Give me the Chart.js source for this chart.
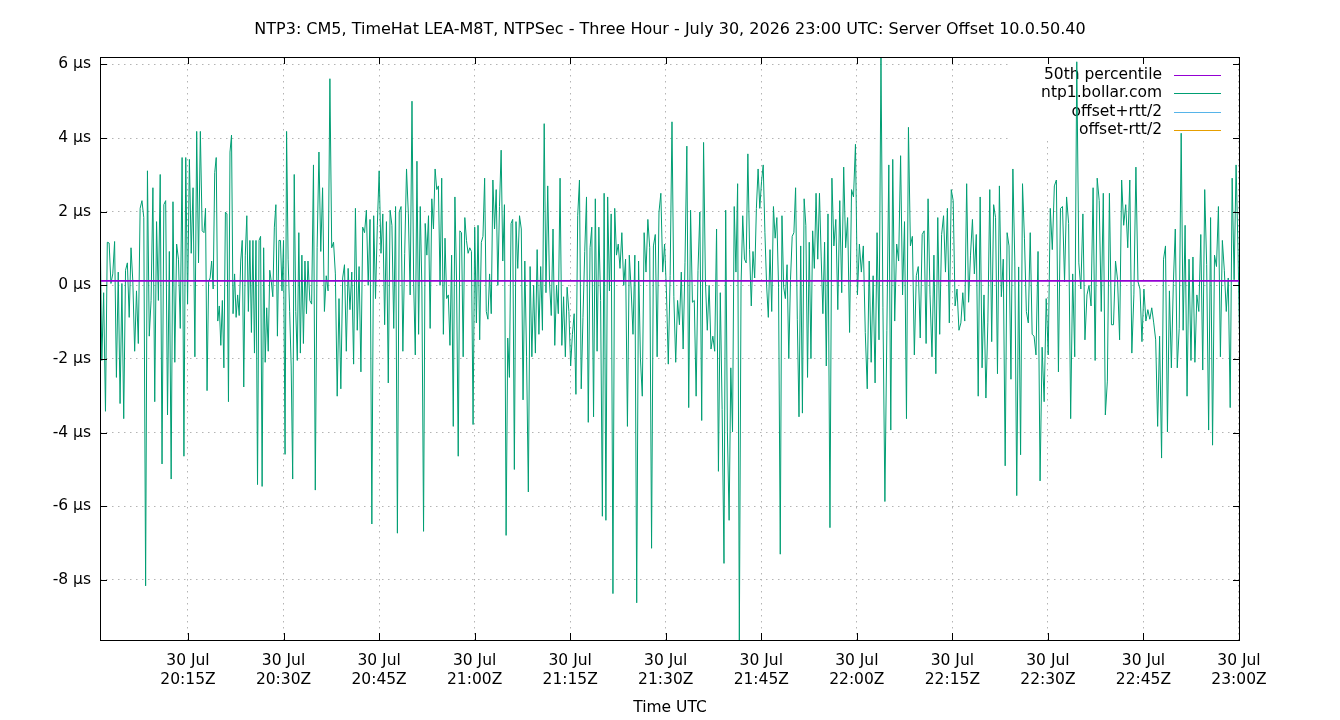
<!DOCTYPE html>
<html><head><meta charset="utf-8">
<script src="https://cdn.jsdelivr.net/npm/chart.js@4/dist/chart.umd.min.js"></script>
<style>html,body{margin:0;padding:0;background:#fff;}#wrap{width:1340px;height:720px;}</style>
</head><body><div id="wrap"><canvas id="c" width="1340" height="720"></canvas></div>
<script>
const chartTitle = "NTP3: CM5, TimeHat LEA-M8T, NTPSec - Three Hour - July 30, 2026 23:00 UTC: Server Offset 10.0.50.40";
const xAxisTitle = "Time UTC";
const seriesNames = ["50th percentile", "ntp1.bollar.com", "offset+rtt/2", "offset-rtt/2"];
const seriesColors = ["#9400d3", "#009e73", "#56b4e9", "#e69f00"];
const median50 = 0.12;                       // µs
const timeRangeMin = [1.185, 180.157];       // minutes after 20:00Z
const yRange = [-9.63, 6.2];                 // µs
// minutes after 20:00Z bounding each block of read samples (16 s polling)
const segmentBoundsMin = [1.185, 17.512, 33.839, 50.166, 66.494, 82.821, 99.148, 115.475, 131.802, 148.130, 164.457, 180.157];

const seg0 = [1.84, -2.04, -0.20, -3.42, 1.17, 1.15, 0.05, 0.31, 1.19, -2.5, 0.36, -3.21, 0.05, -3.62, 0.41, 0.61, -0.87, 1.02, 0.10, -1.79, -0.15, -1.58, 2.09, 2.30, 1.84, -8.16, 3.11, -1.38, -0.41, 2.65, -3.16, 1.73, -0.41, 3.01, -4.85, 2.19, 2.30, -3.52, 0.92, -5.26, 2.27, -2.09, 1.12, 0.71, -1.17, 3.47, -4.64, 3.47, -0.51, 3.42, 0.87, 2.65, -1.94, 4.18, 0.61, 4.18, 1.48];
const seg1 = [1.43, 2.09, -2.86, 0.10, 0.20, 0.66, -0.10, 3.06, 3.47, -0.97, -0.56, -1.63, -0.41, -2.24, 1.99, 1.94, -3.16, 3.62, 4.08, -0.77, 0.31, -0.87, -0.26, -0.82, 0.66, 1.22, -2.76, 0.82, 1.89, -0.71, 1.22, -1.28, 1.22, -1.84, 1.22, -5.41, 1.22, 1.33, -5.46, 1.02, -2.09, -0.61, -1.79, 0.41, 0.10, -0.31, 1.58, 2.19, -1.38, 1.22, 1.22, -0.15, 1.22, -4.59, 4.18, 0.71, -0.71, -2.19, -5.26, 3.01, -0.71, -2.04, 1.43, -1.84, 0.82, -1.58, 0.66, -0.77];
const seg2 = [0.66, -0.41, -0.51, 3.27, -5.56, 1.02, 3.62, 0.92, 2.65, -0.71, 0.26, -0.15, 5.61, 1.02, 1.17, 0.31, -3.01, -0.36, -2.81, 0.20, 0.56, -1.79, 0.46, -0.66, 0.36, -2.14, 2.09, -1.22, 0.51, -2.35, 1.58, 1.43, 2.04, 0.0, 1.79, -6.48, 1.89, -0.36, 1.63, 3.11, 0.87, 1.94, -1.07, 1.73, -2.65, 2.04, 1.63, -1.17, 2.14, -6.73, 1.99, 2.14, -1.79, 0.87, 3.16, 1.94, -0.26];
const seg3 = [5.0, 0.10, -1.89, 3.37, -1.33, 2.14, -0.10, -6.68, 1.68, 0.82, 1.89, -1.17, 2.35, 1.53, 3.16, 2.60, 2.70, 0.0, 2.91, -1.33, 1.28, -0.36, -0.26, -1.63, 0.82, -3.83, 2.40, 0.10, -4.64, 1.48, 1.43, -1.94, 1.84, 1.22, 0.87, 1.02, 0.92, -3.78, 1.58, -1.02, 1.63, -1.48, 1.17, 1.33, 2.91, -0.71, -0.92, 0.31, -0.77, 2.86, 1.53, 2.60, 0.0, 2.14, 3.67, 0.66, 2.19, -6.79, -1.43, -2.5, 1.68, 1.79, -5.0];
const seg4 = [1.73, 0.46, 1.89, 1.53, -3.11, 0.66, -1.94, -5.61, 0.51, -1.94, 0.0, -1.84, 0.97, -1.33, 0.51, -1.22, 4.39, -0.20, 2.70, 0.10, -0.82, 1.53, -1.63, 0.0, -0.77, 2.91, -1.63, -0.31, -1.94, -0.05, -0.71, -2.19, -1.33, -0.77, -2.96, 1.89, 2.86, -2.81, -0.87, 0.92, 2.40, -3.72, 1.02, 1.58, -3.57, 2.35, -1.79, 1.58, -0.41, -6.27, 2.50, -6.38, 2.40, -0.15, 1.94, -8.37, 2.09, 0.82, 1.12];
const seg5 = [0.46, 1.43, 0.0, 0.71, -3.83, 0.82, -0.10, -1.33, 0.82, -8.62, 0.66, -1.99, -3.01, 1.43, 0.36, 1.79, 1.02, -7.14, 1.07, 1.38, -1.94, 1.99, 2.50, 0.36, 1.12, -0.15, -2.14, 0.26, 4.44, -0.31, -2.09, -0.41, -1.07, 0.36, -1.73, 0.61, 3.78, -3.32, 2.04, -0.46, -0.41, -3.01, 0.41, 1.99, -3.67, 3.88, 0.10, -1.22, 0.0, -1.73, -1.38, -1.79, 1.53, -5.05, -0.20, -3.37];
const seg6 = [-7.55, 2.04, -3.98, -6.38, -2.24, -3.98, 2.14, 0.36, 2.76, -9.63, 0.0, 1.89, 0.71, 0.61, 3.57, 0.97, -0.56, 0.92, 0.20, 2.09, 3.16, 2.09, 2.81, 3.27, 1.43, 0.0, -0.87, 0.97, -0.71, 2.14, 1.28, 1.84, -0.05, -7.30, 1.89, -0.05, -0.36, 0.56, -1.99, 0.15, 1.33, 1.43, 2.65, -0.92, -3.57, 1.07, -3.47, 2.35, 1.63, -2.5, 1.17, -1.99, 1.48, 0.46, 2.50, 0.71, 2.50, 0.77, -0.77, 1.17, -2.19];
const seg7 = [1.94, -6.58, 2.91, 1.07, 1.79, -0.66, 2.30, -0.20, 3.21, 1.02, 1.84, -1.28, 2.60, 2.40, 3.83, -0.26, 1.12, 0.36, 1.07, -1.28, -2.81, 0.66, -2.09, 0.26, -2.65, 1.43, -1.48, 6.2, -0.61, -5.87, -1.22, 3.27, -3.93, 3.42, -0.97, 1.12, 0.66, 3.52, -0.26, 1.73, -3.62, 4.29, 1.07, 1.33, -1.89, 0.26, 0.51, -1.43, 1.38, 1.48, -1.58, 2.35, -0.26];
const seg8 = [-1.94, 0.82, -2.40, 1.84, -1.33, 1.38, 1.89, 0.36, 2.09, -1.02, 2.60, 2.30, -0.56, -0.10, -1.22, -1.02, -0.20, -0.97, 2.76, -0.46, 0.82, 1.79, 0.31, 1.38, -3.01, 2.40, -2.24, -0.26, -3.06, -1.02, 2.60, -1.53, 2.19, 1.84, -2.40, 2.70, -0.31, 0.71, -4.90, 1.43, 1.07, -2.55, 3.16, 0.66, -5.71, 0.5, -4.6, 2.76, 1.28, -0.71, -1.02, 1.43, -1.33, -1.38];
const seg9 = [-1.89, 0.92, -5.31, -1.68, -3.16, -0.36, -1.89, 2.09, 0.97, 2.70, 2.86, -2.35, 2.09, 2.14, 0.10, 2.40, 1.68, -3.62, 0.31, -1.94, 6.07, 0.61, -0.10, 1.94, -1.48, -0.26, 0.0, -0.56, 2.65, -2.04, 2.91, 2.30, -0.71, 2.50, -3.52, -2.60, 2.50, -1.07, -1.07, 0.66, 0.15, -1.48, 2.86, 1.63, 2.19, 1.02, 2.86, -1.84, -0.26, 3.21, 0.10];
const seg10 = [-0.10, -1.53, -0.10, -0.97, -0.66, -0.92, -0.61, -1.02, -1.48, -3.83, -1.38, -4.69, 0.71, 1.07, -3.98, -0.15, -2.24, 0.05, 1.53, -2.24, -1.17, 4.13, -1.22, 1.63, -3.01, 0.71, -2.04, 0.77, -2.09, -0.26, -0.71, 1.38, -2.30, 2.60, 0.56, -3.93, 1.84, -4.34, 0.82, 0.51, 2.14, -1.94, 1.22, 0.41, -0.71, 0.20, -3.32, 2.91, 0.15, 3.27, 0.92, -2.14];
const offsetSegments = [seg0, seg1, seg2, seg3, seg4, seg5, seg6, seg7, seg8, seg9, seg10];

const xTickMinutes = [15, 30, 45, 60, 75, 90, 105, 120, 135, 150, 165, 180];
const xTickDate = "30 Jul";
const xTickTimes = ["20:15Z", "20:30Z", "20:45Z", "21:00Z", "21:15Z", "21:30Z", "21:45Z", "22:00Z", "22:15Z", "22:30Z", "22:45Z", "23:00Z"];
const yTickValues = [-8, -6, -4, -2, 0, 2, 4, 6];
const yTickLabels = ["-8 µs", "-6 µs", "-4 µs", "-2 µs", "0 µs", "2 µs", "4 µs", "6 µs"];

// samples are evenly spaced (fixed poll interval) inside each block
const offsetPoints = [];
offsetSegments.forEach((seg, k) => {
  const a = segmentBoundsMin[k], b = segmentBoundsMin[k + 1];
  const last = k === offsetSegments.length - 1;
  const step = (b - a) / (last ? seg.length - 1 : seg.length);
  seg.forEach((v, i) => offsetPoints.push({x: a + i * step, y: v}));
});

const FAMILY = "'DejaVu Sans', sans-serif";
const FONT = {family: FAMILY, size: 15.5, weight: 'normal'};
const TITLE_FONT = {family: FAMILY, size: 16, weight: 'normal'};

const gnuFrame = {
  id: 'gnuFrame',
  beforeDatasetsDraw(chart) {
    const ctx = chart.ctx;
    ctx.save();
    ctx.fillStyle = '#ffffff';
    ctx.fillRect(1012, 58, 222, 82);
    ctx.font = `${FONT.size}px ${FONT.family}`;
    ctx.textAlign = 'right';
    ctx.textBaseline = 'middle';
    ctx.fillStyle = '#000';
    chart.data.datasets.forEach((ds, i) => {
      const y = 75 + i * 18.4;
      ctx.fillText(ds.label, 1162, y);
      ctx.strokeStyle = ds.borderColor;
      ctx.lineWidth = 1;
      ctx.beginPath();
      ctx.moveTo(1174, Math.round(y) + 0.5);
      ctx.lineTo(1221, Math.round(y) + 0.5);
      ctx.stroke();
    });
    ctx.restore();
  },
  afterDraw(chart) {
    const ctx = chart.ctx, a = chart.chartArea;
    const xs = chart.scales.x, ys = chart.scales.y;
    ctx.save();
    ctx.strokeStyle = '#000';
    ctx.lineWidth = 1;
    ctx.strokeRect(Math.round(a.left) + 0.5, Math.round(a.top) + 0.5, Math.round(a.right - a.left) - 1, Math.round(a.bottom - a.top));
    ctx.beginPath();
    const L = 7;
    xTickMinutes.forEach(v => {
      const px = Math.round(xs.getPixelForValue(v)) + 0.5;
      ctx.moveTo(px, a.bottom); ctx.lineTo(px, a.bottom - L);
      ctx.moveTo(px, a.top); ctx.lineTo(px, a.top + L);
    });
    yTickValues.forEach(v => {
      const py = Math.round(ys.getPixelForValue(v)) + 0.5;
      ctx.moveTo(a.left, py); ctx.lineTo(a.left + L, py);
      ctx.moveTo(a.right, py); ctx.lineTo(a.right - L, py);
    });
    ctx.stroke();
    ctx.restore();
  }
};

new Chart(document.getElementById('c'), {
  type: 'line',
  data: {
    datasets: [
      {label: seriesNames[0], data: [{x: timeRangeMin[0], y: median50}, {x: timeRangeMin[1], y: median50}], borderColor: seriesColors[0], borderWidth: 1.6, pointRadius: 0},
      {label: seriesNames[1], data: offsetPoints, borderColor: seriesColors[1], borderWidth: 1, pointRadius: 0, tension: 0},
      {label: seriesNames[2], data: [], borderColor: seriesColors[2], borderWidth: 1, pointRadius: 0},
      {label: seriesNames[3], data: [], borderColor: seriesColors[3], borderWidth: 1, pointRadius: 0}
    ]
  },
  options: {
    responsive: false,
    animation: false,
    devicePixelRatio: 1,
    layout: {padding: {left: 0, right: 0, top: 0, bottom: 0}},
    plugins: {
      legend: {display: false},
      tooltip: {enabled: false},
      title: {display: true, text: chartTitle, color: '#000', font: TITLE_FONT, padding: {top: 20, bottom: 17.8}}
    },
    scales: {
      x: {
        type: 'linear', min: timeRangeMin[0], max: timeRangeMin[1],
        afterBuildTicks: s => { s.ticks = xTickMinutes.map(v => ({value: v})); },
        afterFit: s => { s.height = 80; },
        ticks: {autoSkip: false, maxRotation: 0, padding: 12, color: '#000', font: FONT,
          callback: (v, i) => [xTickDate, xTickTimes[i]]},
        grid: {color: '#b4b4b4', lineWidth: 1, drawTicks: false},
        border: {display: false, dash: [1.5, 4.5]},
        title: {display: true, text: xAxisTitle, color: '#000', font: FONT, padding: {top: 0, bottom: 3}}
      },
      y: {
        type: 'linear', position: 'left', min: yRange[0], max: yRange[1],
        afterBuildTicks: s => { s.ticks = yTickValues.map(v => ({value: v})); },
        afterFit: s => { s.width = 100; },
        ticks: {padding: 9, color: '#000', font: FONT, callback: (v, i) => yTickLabels[i]},
        grid: {color: '#b4b4b4', lineWidth: 1, drawTicks: false},
        border: {display: false, dash: [1.5, 4.5]}
      },
      yRight: {
        type: 'linear', position: 'right', min: yRange[0], max: yRange[1],
        afterFit: s => { s.width = 100; },
        ticks: {display: false},
        grid: {display: false, drawTicks: false},
        border: {display: false}
      }
    }
  },
  plugins: [gnuFrame]
});
</script></body></html>
